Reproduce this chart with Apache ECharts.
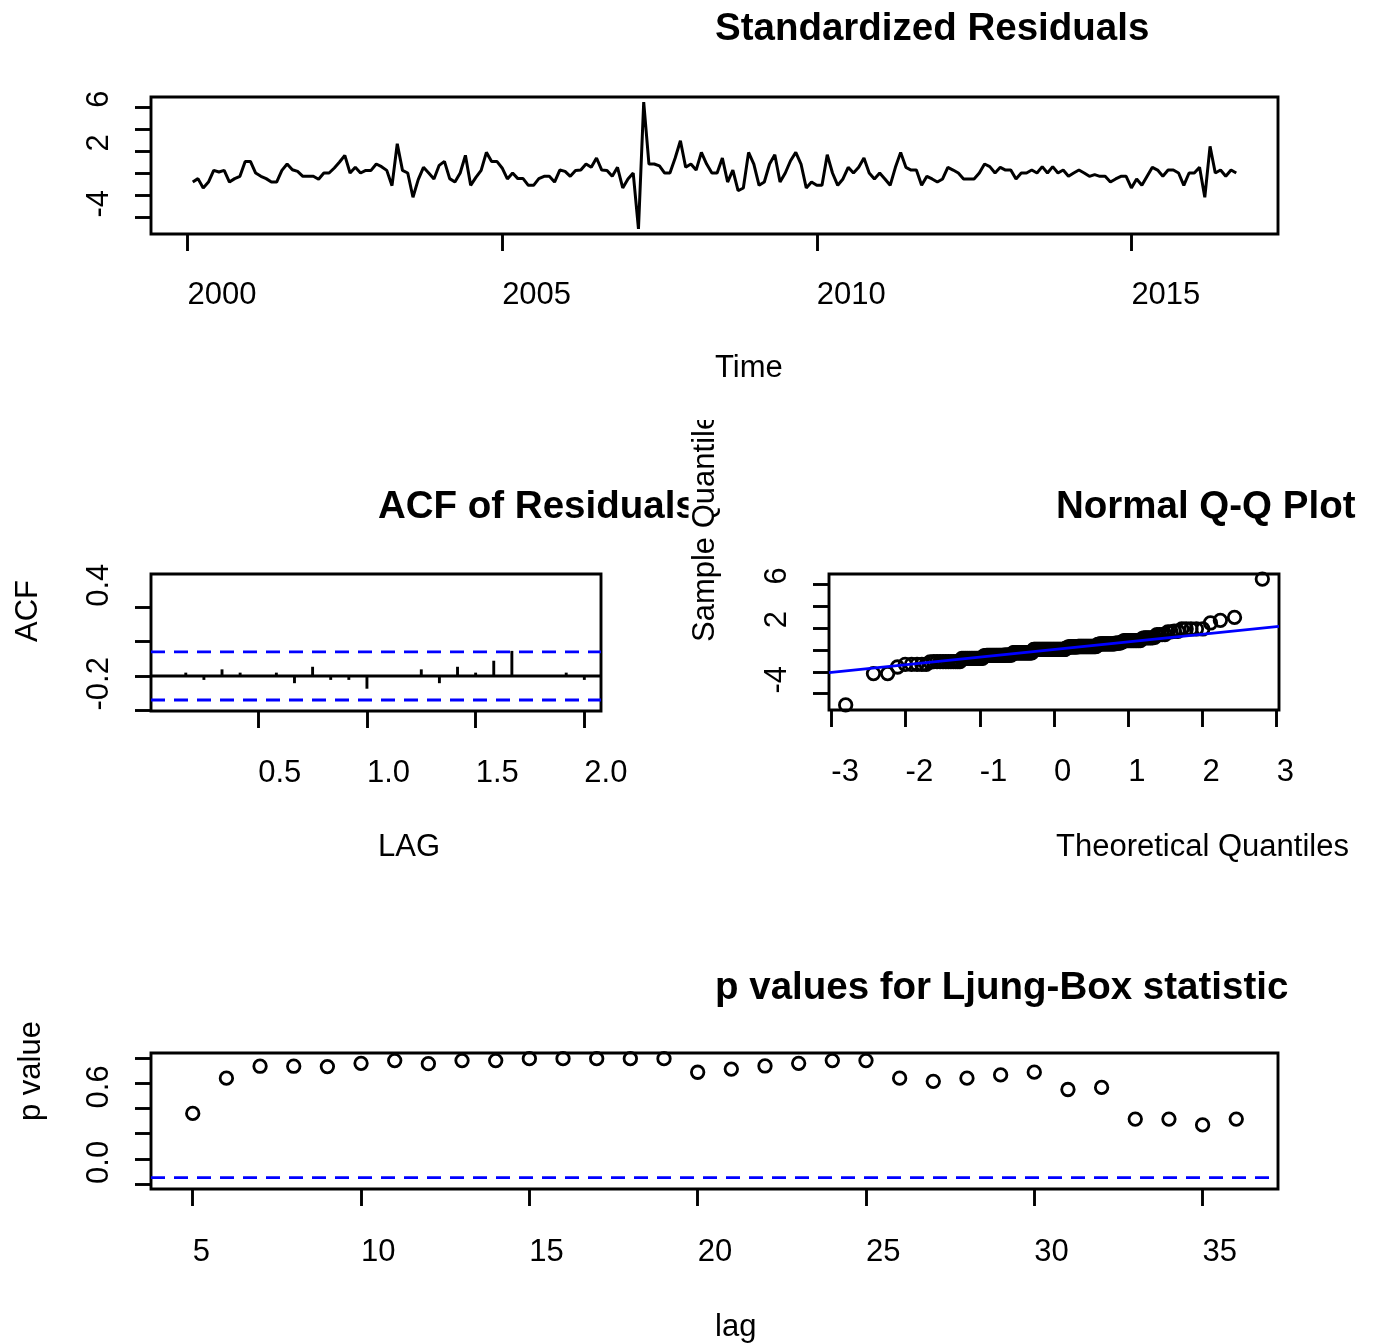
<!DOCTYPE html>
<html><head><meta charset="utf-8">
<script src="https://cdn.jsdelivr.net/npm/echarts@6/dist/echarts.min.js"></script>
<style>html,body{margin:0;padding:0;background:#fff}#c{width:1377px;height:1343px}</style>
</head><body><div id="c"></div>
<script>
// ---------- data ----------
const residStart = [2000, 2]; // first observation: year, month (monthly series)
const residuals = [
 -0.77,-0.46,-1.31,-0.77,0.29,0.14,0.29,-0.77,-0.46,-0.25,
 1.11,1.11,0.05,-0.25,-0.46,-0.77,-0.77,0.29,0.87,0.35,
 0.20,-0.25,-0.25,-0.25,-0.52,0.05,0.05,0.51,1.05,1.66,
 0.05,0.57,0.05,0.29,0.29,0.87,0.63,0.29,-1.10,2.72,
 0.29,0.05,-2.16,-0.55,0.57,0.05,-0.49,0.75,1.11,-0.46,
 -0.77,0.05,1.66,-1.07,-0.34,0.29,1.93,1.11,1.11,0.51,
 -0.49,0.05,-0.46,-0.46,-1.07,-1.07,-0.46,-0.25,-0.25,-0.77,
 0.32,0.20,-0.25,0.29,0.32,0.87,0.57,1.42,0.32,0.29,
 -0.25,0.57,-1.31,-0.49,0.05,-5.04,6.51,0.87,0.87,0.70,
 0.05,0.05,1.42,2.99,0.57,0.87,0.32,1.93,0.87,0.05,
 0.05,1.42,-0.77,0.32,-1.56,-1.31,1.93,0.87,-1.07,-0.77,
 0.87,1.72,-0.77,0.05,1.17,1.93,0.87,-1.31,-0.77,-1.07,
 -1.07,1.72,0.05,-1.07,-0.49,0.57,0.05,0.57,1.42,0.05,
 -0.49,0.05,-0.49,-1.07,0.57,1.93,0.57,0.32,0.32,-1.07,
 -0.25,-0.49,-0.77,-0.49,0.57,0.32,0.05,-0.49,-0.49,-0.49,
 0.05,0.87,0.63,0.05,0.57,0.32,0.32,-0.49,0.05,0.05,
 0.32,0.05,0.63,0.05,0.63,0.05,0.32,-0.25,0.05,0.32,
 0.05,-0.25,-0.10,-0.25,-0.25,-0.77,-0.49,-0.25,-0.25,-1.31,
 -0.49,-1.07,-0.25,0.57,0.32,-0.25,0.32,0.32,0.05,-1.07,
 0.05,0.05,0.57,-2.16,2.48,0.05,0.32,-0.25,0.32,0.05
];
const acfLagMonths = [1,2,3,4,5,6,7,8,9,10,11,12,13,14,15,16,17,18,19,20,21,22,23,24];
const acfValues = [0.005,0.019,-0.023,0.038,0.019,0.003,0.019,-0.042,0.053,-0.023,-0.023,-0.074,
                   -0.003,0.002,0.038,-0.042,0.053,0.019,0.088,0.145,0.002,-0.003,0.019,-0.023];
const acfBand = 0.139;
const acfYRange = [-0.203, 0.59];
const lbLags = [5,6,7,8,9,10,11,12,13,14,15,16,17,18,19,20,21,22,23,24,25,26,27,28,29,30,31,32,33,34,35,36];
const lbPValues = [0.56,0.84,0.935,0.935,0.932,0.958,0.98,0.955,0.98,0.98,0.995,0.995,0.995,0.995,0.995,
                   0.887,0.912,0.937,0.958,0.98,0.98,0.84,0.815,0.84,0.866,0.888,0.75,0.767,0.515,0.515,0.469,0.515];
const lbLevel = 0.05;
const qqLineCoef = [0.05, 0.70]; // intercept, slope of the blue reference line

// ---------- tick labels ----------
const timeTicks = [2000, 2005, 2010, 2015];
const residYTicks = [-4, -2, 0, 2, 4, 6];
const residYLabels = [6, 2, -4];
const acfXTicks = [0.5, 1.0, 1.5, 2.0];
const acfYTicks = [-0.2, 0, 0.2, 0.4];
const acfYLabels = [0.4, -0.2];
const qqXTicks = [-3, -2, -1, 0, 1, 2, 3];
const lbXTicks = [5, 10, 15, 20, 25, 30, 35];
const lbYTicks = [0, 0.2, 0.4, 0.6, 0.8, 1.0];
const lbYLabels = [0.6, 0.0];

// ---------- texts ----------
const txtTitle1 = 'Standardized Residuals', txtX1 = 'Time';
const txtTitle2 = 'ACF of Residuals', txtX2 = 'LAG', txtY2 = 'ACF';
const txtTitle3 = 'Normal Q-Q Plot', txtX3 = 'Theoretical Quantiles', txtY3 = 'Sample Quantiles';
const txtTitle4 = 'p values for Ljung-Box statistic', txtX4 = 'lag', txtY4 = 'p value';

// ---------- helpers ----------
function qnorm(p){
  const a=[-3.969683028665376e+01,2.209460984245205e+02,-2.759285104469687e+02,1.383577518672690e+02,-3.066479806614716e+01,2.506628277459239e+00];
  const b=[-5.447609879822406e+01,1.615858368580409e+02,-1.556989798598866e+02,6.680131188771972e+01,-1.328068155288572e+01];
  const c=[-7.784894002430293e-03,-3.223964580411365e-01,-2.400758277161838e+00,-2.549732539343734e+00,4.374664141464968e+00,2.938163982698783e+00];
  const d=[7.784695709041462e-03,3.224671290700398e-01,2.445134137142996e+00,3.754408661907416e+00];
  const pl=0.02425;
  if(p<pl){const q=Math.sqrt(-2*Math.log(p));return (((((c[0]*q+c[1])*q+c[2])*q+c[3])*q+c[4])*q+c[5])/((((d[0]*q+d[1])*q+d[2])*q+d[3])*q+1);}
  if(p>1-pl){const q=Math.sqrt(-2*Math.log(1-p));return -(((((c[0]*q+c[1])*q+c[2])*q+c[3])*q+c[4])*q+c[5])/((((d[0]*q+d[1])*q+d[2])*q+d[3])*q+1);}
  const q=p-0.5,r=q*q;
  return (((((a[0]*r+a[1])*r+a[2])*r+a[3])*r+a[4])*r+a[5])*q/(((((b[0]*r+b[1])*r+b[2])*r+b[3])*r+b[4])*r+1);
}
function padRange(lo, hi){ const d = hi - lo; return [lo - 0.04*d, hi + 0.04*d]; }

const n = residuals.length;
const t0 = residStart[0] + (residStart[1]-1)/12;
const residData = residuals.map((v,i)=>[t0 + i/12, v]);
const timeRange = padRange(t0, t0 + (n-1)/12);
const residRange = padRange(Math.min(...residuals), Math.max(...residuals));
const acfData = acfLagMonths.map((m,i)=>[m/12, acfValues[i]]);
const acfXRange = padRange(acfLagMonths[0]/12, acfLagMonths[acfLagMonths.length-1]/12);
const sorted = residuals.slice().sort((a,b)=>a-b);
const qqData = sorted.map((v,i)=>[qnorm((i+0.5)/n), v]);
const qqXRange = padRange(qqData[0][0], qqData[n-1][0]);
const lbData = lbLags.map((l,i)=>[l, lbPValues[i]]);
const lbXRange = padRange(lbLags[0], lbLags[lbLags.length-1]);
const lbYRange = padRange(0, 1);

// ---------- styling ----------
const FONT = '"Liberation Sans", Arial, Helvetica, sans-serif';
const LW = 2.9;
const fmt1 = v => (Math.round(v*10)/10).toFixed(1);
function xAxisCfg(gi, range, ticks, labels, formatter, margin){
  return {type:'value', gridIndex:gi, min:range[0], max:range[1],
    axisLine:{show:false, onZero:false}, splitLine:{show:false},
    axisTick:{show:true, length:17, customValues:ticks, lineStyle:{color:'#000', width:LW}},
    axisLabel:{customValues:labels, formatter, align:'left', verticalAlign:'middle', margin,
      fontSize:31, fontFamily:FONT, color:'#000'}};
}
function yAxisCfg(gi, range, ticks, labels, formatter){
  return {type:'value', gridIndex:gi, min:range[0], max:range[1],
    axisLine:{show:false, onZero:false}, splitLine:{show:false},
    axisTick:{show:true, length:16, customValues:ticks, lineStyle:{color:'#000', width:LW}},
    axisLabel:{customValues:labels, formatter, rotate:90, align:'left', verticalAlign:'middle', margin:52,
      fontSize:31, fontFamily:FONT, color:'#000'}};
}
const gridBase = {show:true, borderColor:'#000', borderWidth:LW, backgroundColor:'transparent', containLabel:false, outerBoundsMode:'none'};

function txt(x, y, text, bold, extra){
  const font = (bold ? 'bold 38.5px ' : '31px ') + FONT;
  const st = Object.assign({text, font, fill:'#000', align:'left', verticalAlign:'middle', textAlign:'left', textVerticalAlign:'middle'}, extra && extra.style || {});
  return Object.assign({type:'text', x, y, silent:true, z:100, style:st}, extra && extra.el || {});
}
// white masks reproducing the clipping of the middle-row panel regions
function mask(x, y, w, h, z){
  return {type:'rect', silent:true, z, shape:{x, y, width:w, height:h}, style:{fill:'#fff'}};
}
const pointStyle = {color:'rgba(0,0,0,0)', borderColor:'#000', borderWidth:2.8, opacity:1};

const option = {
  animation:false,
  backgroundColor:'#fff',
  grid:[
    Object.assign({left:151, top:97, width:1127, height:137}, gridBase),
    Object.assign({left:151, top:574, width:450, height:137}, gridBase),
    Object.assign({left:829, top:574, width:450, height:136}, gridBase),
    Object.assign({left:151, top:1053, width:1127, height:136}, gridBase)
  ],
  xAxis:[
    xAxisCfg(0, timeRange, timeTicks, timeTicks, v=>String(Math.round(v)), 61),
    xAxisCfg(1, acfXRange, acfXTicks, acfXTicks, fmt1, 62),
    xAxisCfg(2, qqXRange, qqXTicks, qqXTicks, v=>String(Math.round(v)), 62),
    xAxisCfg(3, lbXRange, lbXTicks, lbXTicks, v=>String(Math.round(v)), 63)
  ],
  yAxis:[
    yAxisCfg(0, residRange, residYTicks, residYLabels, v=>String(Math.round(v))),
    yAxisCfg(1, acfYRange, acfYTicks, acfYLabels, fmt1),
    yAxisCfg(2, residRange, residYTicks, residYLabels, v=>String(Math.round(v))),
    yAxisCfg(3, lbYRange, lbYTicks, lbYLabels, fmt1)
  ],
  series:[
    {type:'line', xAxisIndex:0, yAxisIndex:0, data:residData, showSymbol:false, symbol:'none',
     lineStyle:{color:'#000', width:3}, silent:true},
    // ACF zero line
    {type:'line', xAxisIndex:1, yAxisIndex:1, data:[[acfXRange[0],0],[acfXRange[1],0]], symbol:'none',
     lineStyle:{color:'#000', width:LW}, silent:true},
    // ACF bands
    {type:'line', xAxisIndex:1, yAxisIndex:1, data:[[acfXRange[0],acfBand],[acfXRange[1],acfBand]], symbol:'none',
     lineStyle:{color:'#0000ff', width:LW, type:[14,9]}, silent:true, z:3},
    {type:'line', xAxisIndex:1, yAxisIndex:1, data:[[acfXRange[0],-acfBand],[acfXRange[1],-acfBand]], symbol:'none',
     lineStyle:{color:'#0000ff', width:LW, type:[14,9]}, silent:true, z:3},
    // ACF spikes
    {type:'custom', xAxisIndex:1, yAxisIndex:1, data:acfData, silent:true, z:4,
     renderItem:(params, api)=>{
       const p0 = api.coord([api.value(0), 0]);
       const p1 = api.coord([api.value(0), api.value(1)]);
       return {type:'line', shape:{x1:p0[0], y1:p0[1], x2:p1[0], y2:p1[1]}, style:{stroke:'#000', lineWidth:LW}};
     }},
    // QQ points
    {type:'scatter', xAxisIndex:2, yAxisIndex:2, data:qqData, symbol:'circle', symbolSize:12.5,
     itemStyle:pointStyle, silent:true, z:2},
    // QQ line
    {type:'line', xAxisIndex:2, yAxisIndex:2, symbol:'none', silent:true, z:5,
     data:[[qqXRange[0], qqLineCoef[0]+qqLineCoef[1]*qqXRange[0]],[qqXRange[1], qqLineCoef[0]+qqLineCoef[1]*qqXRange[1]]],
     lineStyle:{color:'#0000ff', width:LW}},
    // Ljung-Box p-values
    {type:'scatter', xAxisIndex:3, yAxisIndex:3, data:lbData, symbol:'circle', symbolSize:12.5,
     itemStyle:pointStyle, silent:true},
    {type:'line', xAxisIndex:3, yAxisIndex:3, data:[[lbXRange[0],lbLevel],[lbXRange[1],lbLevel]], symbol:'none',
     lineStyle:{color:'#0000ff', width:LW, type:[14,9]}, silent:true}
  ],
  graphic:{elements:[
    txt(715, 29.5, txtTitle1, true),
    txt(715, 368.5, txtX1, false),
    txt(378, 507.5, txtTitle2, true),
    mask(688.5, 482, 40, 50, 101),
    txt(378, 847.5, txtX2, false),
    txt(28.5, 642, txtY2, false, {el:{rotation:Math.PI/2}}),
    txt(1056, 507.5, txtTitle3, true),
    txt(1056, 847.5, txtX3, false),
    Object.assign(txt(705.5, 642, txtY3, false, {el:{rotation:Math.PI/2}}), {z:102}),
    mask(684, 388, 44, 32, 103),
    txt(715, 988, txtTitle4, true),
    txt(715, 1327.5, txtX4, false),
    txt(31.5, 1121, txtY4, false, {el:{rotation:Math.PI/2}})
  ]}
};
const chart = echarts.init(document.getElementById('c'), null, {renderer:'canvas'});
chart.setOption(option);
</script></body></html>
